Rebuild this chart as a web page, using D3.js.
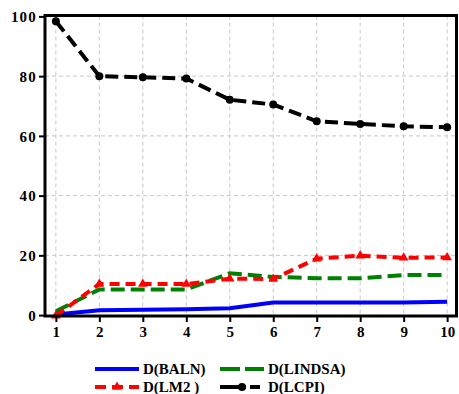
<!DOCTYPE html>
<html>
<head>
<meta charset="utf-8">
<script src="https://cdn.jsdelivr.net/npm/d3@7"></script>
<style>
  html, body { margin: 0; padding: 0; background: #fff; }
  svg { display: block; }
  svg text { font-family: "Liberation Serif", Tinos, "DejaVu Serif", "Times New Roman", serif !important; font-weight: bold; fill: #000; }
</style>
</head>
<body>
<svg id="chart" width="459" height="394"></svg>
<script>
// Forecast periods on the horizontal axis
const periods = [1, 2, 3, 4, 5, 6, 7, 8, 9, 10];

// Variance decomposition shares (%) per series
const baln   = [0.2, 1.6, 1.8, 2.0, 2.3, 4.2, 4.2, 4.2, 4.2, 4.5];
const lindsa = [1.3, 8.6, 8.6, 8.6, 14.0, 12.8, 12.3, 12.3, 13.4, 13.4];
const lm2    = [-0.2, 10.4, 10.4, 10.4, 12.2, 12.1, 18.9, 19.9, 19.2, 19.3];
const lcpi   = [98.4, 80.0, 79.6, 79.2, 72.1, 70.5, 64.9, 64.0, 63.2, 62.9];

const yTicks = [0, 20, 40, 60, 80, 100];
const seriesNames = ["D(BALN)", "D(LINDSA)", "D(LM2 )", "D(LCPI)"];

const FONT = '"Liberation Serif", Tinos, "DejaVu Serif", "Times New Roman", serif';

const svg = d3.select("#chart");

const x = d3.scaleLinear().domain([0.75, 10.25]).range([45, 458]);
const y = d3.scaleLinear().domain([-0.3, 100.3]).range([316, 15.5]);

// Dashed grid
const grid = svg.append("g");
grid.selectAll("line.v").data(periods).join("line")
  .attr("x1", d => x(d)).attr("x2", d => x(d))
  .attr("y1", y.range()[1]).attr("y2", y.range()[0])
  .attr("stroke", "#c8c8c8").attr("stroke-width", 1).attr("stroke-dasharray", "4,3");
grid.selectAll("line.h").data(yTicks.filter(v => v > 0 && v < 100)).join("line")
  .attr("x1", x.range()[0]).attr("x2", x.range()[1])
  .attr("y1", d => y(d)).attr("y2", d => y(d))
  .attr("stroke", "#c8c8c8").attr("stroke-width", 1).attr("stroke-dasharray", "4,3");

const line = d3.line().x((d, i) => x(periods[i])).y(d => y(d));

// BALN: solid blue
svg.append("path").datum(baln).attr("d", line)
  .attr("fill", "none").attr("stroke", "#0000ff").attr("stroke-width", 4);

// LINDSA: long green dashes
svg.append("path").datum(lindsa).attr("d", line)
  .attr("fill", "none").attr("stroke", "#008000").attr("stroke-width", 4)
  .attr("stroke-dasharray", "14,6");

// LM2: red dashes with small triangle markers
svg.append("path").datum(lm2).attr("d", line)
  .attr("fill", "none").attr("stroke", "#ff0000").attr("stroke-width", 4)
  .attr("stroke-dasharray", "10,6");
const tri = d3.symbol().type(d3.symbolTriangle).size(40);
svg.append("g").selectAll("path").data(lm2).join("path")
  .attr("d", tri)
  .attr("transform", (d, i) => `translate(${x(periods[i])},${y(d)})`)
  .attr("fill", "#ff0000");

// LCPI: black dashes with circle markers
svg.append("path").datum(lcpi).attr("d", line)
  .attr("fill", "none").attr("stroke", "#000").attr("stroke-width", 4)
  .attr("stroke-dasharray", "13,6");
svg.append("g").selectAll("circle").data(lcpi).join("circle")
  .attr("cx", (d, i) => x(periods[i])).attr("cy", d => y(d))
  .attr("r", 4).attr("fill", "#000");

// Axes
const yAxis = svg.append("g").attr("transform", `translate(${x.range()[0]},0)`)
  .call(d3.axisLeft(y).tickValues(yTicks).tickSize(6).tickPadding(2));
const xAxis = svg.append("g").attr("transform", `translate(0,${y.range()[0]})`)
  .call(d3.axisBottom(x).tickValues(periods).tickSize(6).tickPadding(4));
[yAxis, xAxis].forEach(g => {
  g.attr("font-family", FONT).attr("font-size", 15);
  g.select(".domain").remove();
  g.selectAll(".tick line").attr("stroke", "#000").attr("stroke-width", 2);
  g.selectAll(".tick text").attr("fill", "#000");
});
yAxis.selectAll(".tick text").style("letter-spacing", "1.2px").attr("dy", "0.35em");

// Frame
svg.append("rect")
  .attr("x", x.range()[0]).attr("y", y.range()[1])
  .attr("width", x.range()[1] - x.range()[0] - 1.5)
  .attr("height", y.range()[0] - y.range()[1])
  .attr("fill", "none").attr("stroke", "#000").attr("stroke-width", 3);

// Legend
const legend = svg.append("g").attr("font-family", FONT).attr("font-size", 15);
const legendItems = [
  { name: seriesNames[0], color: "#0000ff", dash: null, marker: null, lx: 95, ly: 369 },
  { name: seriesNames[1], color: "#008000", dash: "20,5", marker: null, lx: 220, ly: 369 },
  { name: seriesNames[2], color: "#ff0000", dash: "11,6", marker: "tri", lx: 95, ly: 387 },
  { name: seriesNames[3], color: "#000", dash: "26,4,10", marker: "circle", lx: 220, ly: 387 }
];
legendItems.forEach(it => {
  const g = legend.append("g");
  g.append("line").attr("x1", it.lx).attr("x2", it.lx + 44)
    .attr("y1", it.ly).attr("y2", it.ly)
    .attr("stroke", it.color).attr("stroke-width", 4)
    .attr("stroke-dasharray", it.dash);
  if (it.marker === "tri") {
    g.append("path").attr("d", tri).attr("transform", `translate(${it.lx + 22},${it.ly})`).attr("fill", it.color);
  } else if (it.marker === "circle") {
    g.append("circle").attr("cx", it.lx + 22).attr("cy", it.ly).attr("r", 4).attr("fill", it.color);
  }
  g.append("text").attr("x", it.lx + 48).attr("y", it.ly).attr("dy", "0.35em").text(it.name);
});
</script>
</body>
</html>
